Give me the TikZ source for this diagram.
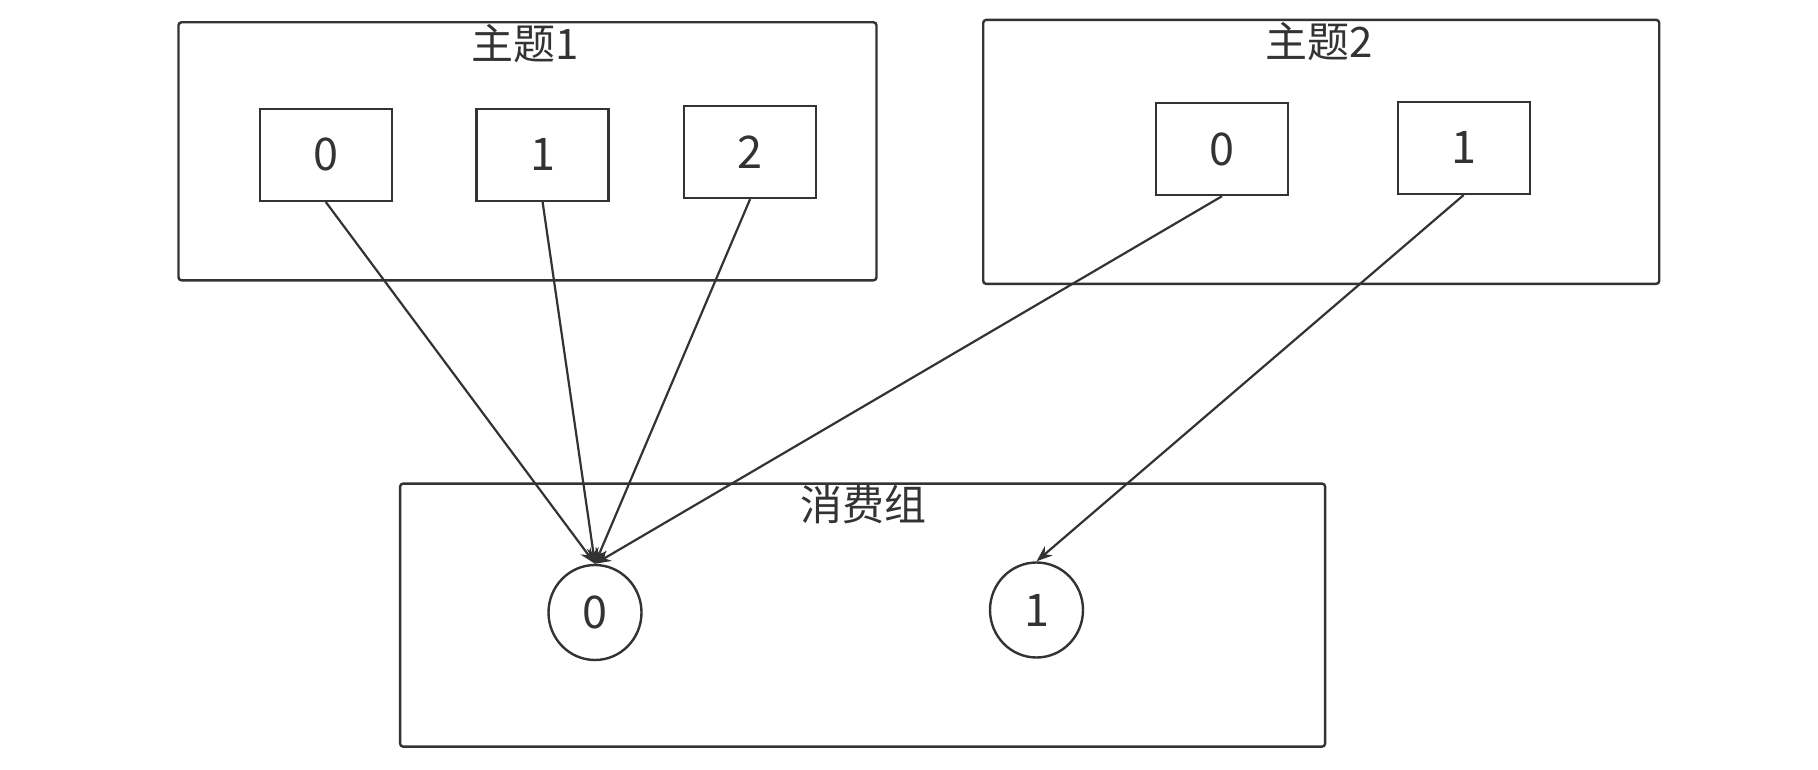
\documentclass[tikz,border=0pt]{standalone}
\usepackage{fontspec}
\setmainfont{Noto Sans CJK SC}
\usetikzlibrary{arrows.meta,shapes.geometric}
\definecolor{ink}{HTML}{333333}
\tikzset{
  groupbox/.style={draw=ink,line width=2.4pt,rounded corners=3pt,inner sep=0pt},
  grouptitle/.style={text=ink,font=\fontsize{42}{44}\selectfont,inner sep=0pt},
  partbox/.style={draw=ink,line width=2.4pt,minimum width=132pt,minimum height=92pt,inner sep=0pt,text=ink,font=\fontsize{45}{47}\selectfont},
  consumer/.style={draw=ink,line width=2.4pt,ellipse,minimum width=93pt,minimum height=95pt,inner sep=0pt,text=ink,font=\fontsize{45}{47}\selectfont},
  feed/.style={draw=ink,line width=2.2pt,-{Stealth[length=16pt,width=12pt]}}
}
\begin{document}
\begin{tikzpicture}[x=1pt,y=-1pt]
\useasboundingbox (0,0) rectangle (1818,770);
% group boxes
\node[groupbox,minimum width=698pt,minimum height=258pt] (g1) at (527.5,151.3) {};
\node[groupbox,minimum width=676pt,minimum height=264pt] (g2) at (1321.2,151.9) {};
\node[groupbox,minimum width=925pt,minimum height=263pt] (cg) at (862.6,615.1) {};
\node[grouptitle] (g1t) at (525,44) {主题1};
\node[grouptitle] (g2t) at (1319.4,42) {主题2};
\node[grouptitle] (cgt) at (863.8,504.5) {消费组};
% partitions
\node[partbox] (a0) at (325.8,154.8) {0};
\node[partbox] (a1) at (542.6,154.8) {1};
\node[partbox] (a2) at (750.1,151.9) {2};
\node[partbox] (b0) at (1222,149) {0};
\node[partbox] (b1) at (1463.7,147.8) {1};
% consumers
\node[consumer] (c0) at (595,612.5) {0};
\node[consumer] (c1) at (1036.5,610) {1};
% connectors
\draw[feed] (a0.south) -- (c0.north);
\draw[feed] (a1.south) -- (c0.north);
\draw[feed] (a2.south) -- (c0.north);
\draw[feed] (b0.south) -- (c0.north);
\draw[feed] (b1.south) -- (c1.north);
\end{tikzpicture}
\end{document}
